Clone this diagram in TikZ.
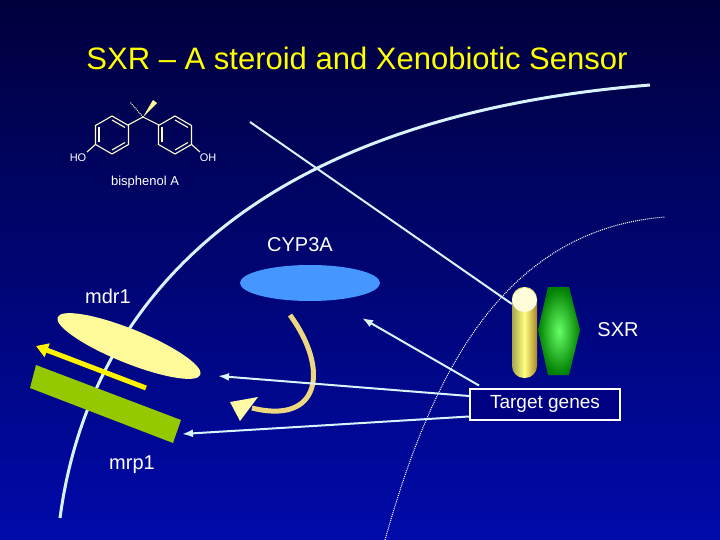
\documentclass[tikz,border=0pt]{standalone}
\usepackage{fontspec}
\setmainfont{Liberation Sans}
\usetikzlibrary{arrows.meta}
\definecolor{bgtop}{RGB}{0,0,60}
\definecolor{bgbot}{RGB}{0,10,170}
\definecolor{titley}{RGB}{255,255,0}
\definecolor{cypblue}{RGB}{70,150,255}
\definecolor{mrpgreen}{RGB}{150,200,0}
\definecolor{tgfill}{RGB}{0,0,130}
\begin{document}
\begin{tikzpicture}[x=1pt,y=-1pt,
  lbl/.style={text=white,font=\fontsize{20}{22}\selectfont},
  conn/.style={draw=cyan!15!white,line width=2pt,-{Latex[length=11pt,width=8pt]}},
  mol/.style={draw=yellow!20!white,line width=1.1pt}]
\shade[top color=bgtop,bottom color=bgbot] (0,0) rectangle (720,540);
\useasboundingbox (0,0) rectangle (720,540);
% membranes
\draw[cyan!15!white,line width=3pt] (60,518) .. controls (85,330) and (220,120) .. (650,85);
\draw[white,densely dotted,line width=1pt] (385,540) .. controls (430,380) and (500,230) .. (665,217);
% title
\node[text=titley,font=\fontsize{31}{34}\selectfont] (title) at (357,58) {SXR -- A steroid and Xenobiotic Sensor};
% bisphenol A
\foreach \c in {112,175}{
  \draw[mol] (\c,135) +(90:19) -- +(150:19) -- +(210:19) -- +(270:19) -- +(330:19) -- +(30:19) -- cycle;
  \draw[mol] (\c,135) +(150:15) -- +(210:15);
  \draw[mol] (\c,135) +(270:15) -- +(330:15);
  \draw[mol] (\c,135) +(30:15) -- +(90:15);
}
\draw[mol] (128,125) -- (143,117) -- (159,125);
\draw[mol,dash pattern=on 1pt off 1pt] (143,117) -- (130,102);
\fill[yellow!40!white] (143,117) -- (153,100) -- (157,103) -- cycle;
\draw[mol] (96,144) -- (87,152);
\draw[mol] (191,144) -- (200,152);
\node[text=white,font=\fontsize{11}{12}\selectfont] (ho) at (78,158) {HO};
\node[text=white,font=\fontsize{11}{12}\selectfont] (oh) at (208,158) {OH};
\node[text=white,font=\fontsize{13}{14}\selectfont] (bpa) at (145,182) {bisphenol A};
% CYP3A
\fill[cypblue] (310,283) ellipse [x radius=70,y radius=18];
\node[lbl] (cyp) at (300,245) {CYP3A};
% mdr1
\fill[yellow!40!white,rotate around={-22:(129,346)}] (129,346) ellipse [x radius=77,y radius=17];
\node[lbl] (mdr) at (108,296) {mdr1};
% mrp1
\fill[mrpgreen] (36,365) -- (30,388) -- (173,443) -- (181,420) -- cycle;
\node[lbl] (mrp) at (132,465) {mrp1};
\draw[yellow,line width=5pt,-{Triangle[length=12pt,width=14pt]}] (146,388) -- (36,346);
% curved arrow
\draw[yellow!50!brown!60!white,line width=5pt] (290,315) .. controls (330,370) and (320,425) .. (252,408);
\fill[yellow!35!white] (230,402) -- (258,397) -- (240,421) -- cycle;
% SXR
\shade[left color=yellow!50!black!70!white, right color=yellow!30!brown!80!black, middle color=yellow!50!white,rounded corners=12pt] (512,287) rectangle (537,378);
\fill[yellow!15!white] (524.5,300) ellipse [x radius=12.5,y radius=12];
\shade[inner color=green!60!white,outer color=green!50!black] (548,287) -- (569,287) -- (580,330) -- (569,375) -- (548,375) -- (538,330) -- cycle;
\node[lbl] (sxr) at (618,330) {SXR};
% target genes
\node[draw=white,line width=2pt,fill=tgfill,text=white,font=\fontsize{19}{21}\selectfont,minimum width=150pt,minimum height=31pt] (tg) at (545,404) {Target genes};
\coordinate (ls) at (250,122);
\coordinate (le) at (512,304);
\draw[cyan!15!white,line width=2pt] (ls) -- (le);
\coordinate (t1) at (362,318);
\coordinate (t2) at (218,376);
\coordinate (t3) at (182,434);
\draw[conn] (tg.north west) ++(10,-2) -- (t1);
\draw[conn] (tg.west) ++(0,-8) -- (t2);
\draw[conn] (tg.south west) ++(0,-4) -- (t3);
\end{tikzpicture}
\end{document}
